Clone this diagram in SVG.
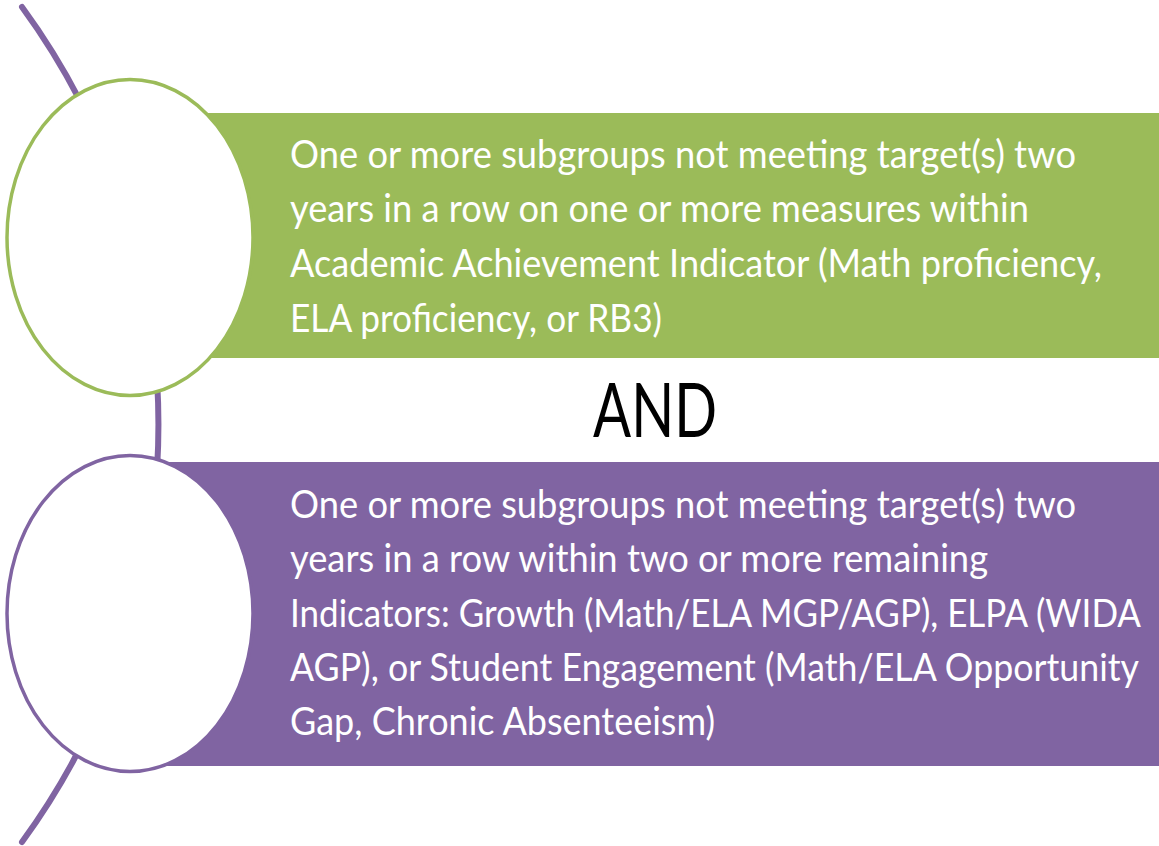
<svg xmlns="http://www.w3.org/2000/svg" width="1159" height="846" viewBox="0 0 1159 846">
  <style>
    .band-text { font-family: Lato, "Open Sans", "Liberation Sans", sans-serif; font-size: 38px; fill: #FFFFFF; }
    .band-text-long { font-family: Lato, "Open Sans", "Liberation Sans", sans-serif; font-size: 35px; fill: #FFFFFF; }
    .and-text { font-family: Lato, "Open Sans", "Liberation Sans", sans-serif; font-size: 76px; fill: #000000; }
    .arc { fill: none; stroke: #8064A2; stroke-width: 6; stroke-linecap: round; }
  </style>
  <rect x="0" y="0" width="1159" height="846" fill="#FFFFFF"/>
  <g id="connectors">
    <path class="arc" d="M 22 7 A 707 707 0 0 1 22 842"/>
  </g>
  <g id="node-green">
    <rect x="130" y="113" width="1029" height="245" fill="#9BBB59"/>
    <ellipse cx="130" cy="237.5" rx="123" ry="158" fill="#FFFFFF" stroke="#9BBB59" stroke-width="3.5"/>
    <text class="band-text" x="290" y="168" textLength="786" lengthAdjust="spacingAndGlyphs">One or more subgroups not meeting target(s) two</text>
    <text class="band-text" x="290" y="222" textLength="739" lengthAdjust="spacingAndGlyphs">years in a row on one or more measures within</text>
    <text class="band-text" x="290" y="277" textLength="812" lengthAdjust="spacingAndGlyphs">Academic Achievement Indicator (Math proficiency,</text>
    <text class="band-text" x="290" y="332" textLength="372" lengthAdjust="spacingAndGlyphs">ELA proficiency, or RB3)</text>
  </g>
  <g id="node-and">
    <text class="and-text" x="593" y="437" textLength="124" lengthAdjust="spacingAndGlyphs">AND</text>
  </g>
  <g id="node-purple">
    <rect x="130" y="462" width="1029" height="304" fill="#8064A2"/>
    <ellipse cx="130" cy="613.5" rx="123" ry="158" fill="#FFFFFF" stroke="#8064A2" stroke-width="3.5"/>
    <text class="band-text" x="290" y="518" textLength="786" lengthAdjust="spacingAndGlyphs">One or more subgroups not meeting target(s) two</text>
    <text class="band-text" x="290" y="572" textLength="698" lengthAdjust="spacingAndGlyphs">years in a row within two or more remaining</text>
    <text class="band-text-long" transform="translate(290,627) scale(1,1.086)" x="0" y="0" textLength="851" lengthAdjust="spacingAndGlyphs">Indicators: Growth (Math/ELA MGP/AGP), ELPA (WIDA</text>
    <text class="band-text-long" transform="translate(290,681) scale(1,1.086)" x="0" y="0" textLength="849" lengthAdjust="spacingAndGlyphs">AGP), or Student Engagement (Math/ELA Opportunity</text>
    <text class="band-text" x="290" y="735" textLength="425" lengthAdjust="spacingAndGlyphs">Gap, Chronic Absenteeism)</text>
  </g>
</svg>
